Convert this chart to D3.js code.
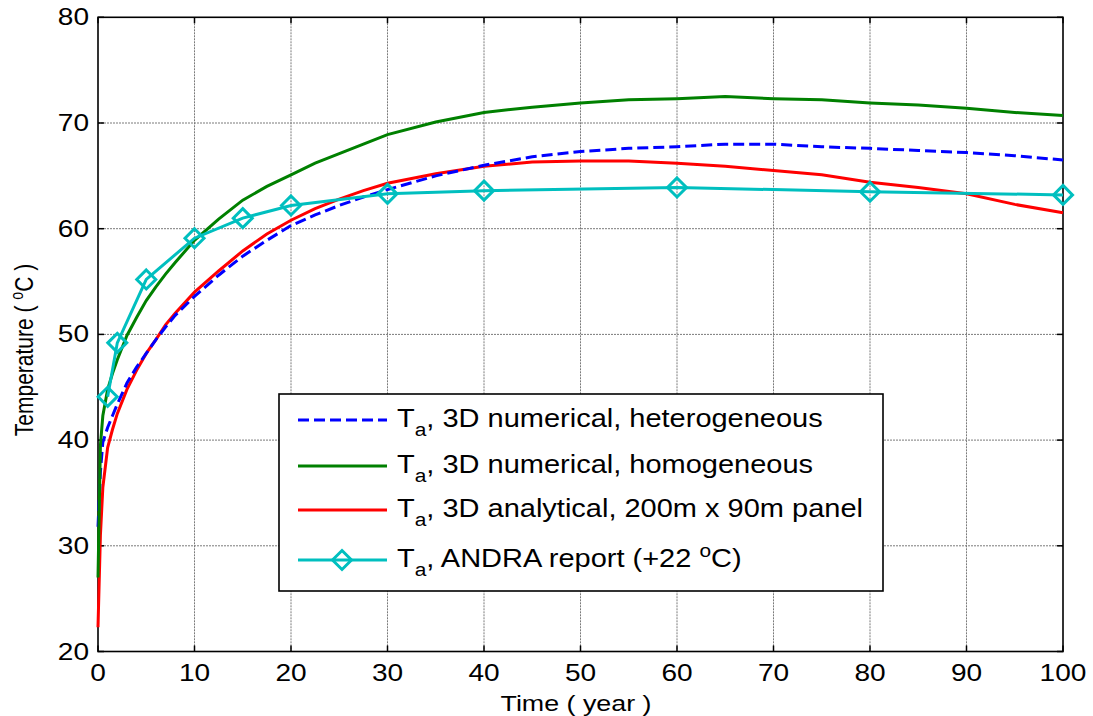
<!DOCTYPE html>
<html>
<head>
<meta charset="utf-8">
<script src="https://cdn.jsdelivr.net/npm/d3@7"></script>
<style>
  html, body { margin: 0; padding: 0; background: #fff; }
  svg { display: block; }
  text { font-family: "Liberation Sans", Arial, sans-serif; fill: #000; }
</style>
</head>
<body>
<svg id="chart" width="1093" height="716"></svg>
<script>
// ---- data ----
const timeYears = [0, 0.25, 0.5, 1, 1.5, 2, 3, 4, 5, 6, 7, 8, 10, 12.5, 15, 17.5, 20, 22.5, 25, 27.5, 30, 35, 40, 45, 50, 55, 60, 65, 70, 75, 80, 85, 90, 95, 100];
const heterogeneous = [31.8, 37, 39.8, 41.2, 42.3, 43.4, 45.4, 46.9, 48.2, 49.5, 50.7, 51.8, 53.6, 55.6, 57.4, 58.9, 60.3, 61.3, 62.2, 63.0, 63.7, 65.0, 66.0, 66.8, 67.3, 67.6, 67.75, 68.0, 68.0, 67.75, 67.6, 67.4, 67.2, 66.9, 66.5];
const homogeneous = [27, 39.5, 42.3, 44.8, 46.3, 47.6, 49.9, 51.6, 53.2, 54.5, 55.7, 56.8, 58.9, 60.9, 62.7, 64.0, 65.1, 66.2, 67.1, 68.0, 68.9, 70.1, 71.0, 71.5, 71.9, 72.2, 72.3, 72.5, 72.3, 72.2, 71.9, 71.7, 71.4, 71.0, 70.7];
const analytical = [22.3, 31, 35.5, 39.3, 41, 42.5, 44.8, 46.6, 48.2, 49.5, 50.9, 52.0, 54.0, 56.0, 57.9, 59.5, 60.8, 61.9, 62.8, 63.6, 64.3, 65.2, 65.9, 66.3, 66.4, 66.4, 66.2, 65.9, 65.5, 65.1, 64.4, 63.9, 63.3, 62.3, 61.5];
const andraYears = [1, 2, 5, 10, 15, 20, 30, 40, 60, 80, 100];
const andraValues = [44.1, 49.2, 55.2, 59.1, 61.0, 62.2, 63.3, 63.6, 63.9, 63.5, 63.2];
const xTicks = [0, 10, 20, 30, 40, 50, 60, 70, 80, 90, 100];
const yTicks = [20, 30, 40, 50, 60, 70, 80];
const legendLabels = [", 3D numerical, heterogeneous", ", 3D numerical, homogeneous", ", 3D analytical, 200m x 90m panel", ", ANDRA report (+22 "];

// ---- layout ----
const svg = d3.select("#chart");
const L = 98, R = 1063, T = 17.3, B = 651.5;
const x = d3.scaleLinear().domain([0, 100]).range([L, R]);
const y = d3.scaleLinear().domain([20, 80]).range([B, T]);
const SX = 1.22; // horizontal stretch of text in the reference

// grid
const grid = svg.append("g");
grid.selectAll("line.vx").data(xTicks.slice(1, -1)).join("line")
  .attr("x1", d => x(d)).attr("x2", d => x(d)).attr("y1", T).attr("y2", B)
  .attr("stroke", "#7a7a7a").attr("stroke-width", 1).attr("stroke-dasharray", "2,1");
grid.selectAll("line.hy").data(yTicks.slice(1, -1)).join("line")
  .attr("x1", L).attr("x2", R).attr("y1", d => y(d)).attr("y2", d => y(d))
  .attr("stroke", "#7a7a7a").attr("stroke-width", 1).attr("stroke-dasharray", "2,1");

// ticks (inside, on all four sides)
const tk = svg.append("g").attr("stroke", "#000").attr("stroke-width", 1.5);
xTicks.forEach(d => {
  tk.append("line").attr("x1", x(d)).attr("x2", x(d)).attr("y1", B).attr("y2", B - 6);
  tk.append("line").attr("x1", x(d)).attr("x2", x(d)).attr("y1", T).attr("y2", T + 6);
});
yTicks.forEach(d => {
  tk.append("line").attr("x1", L).attr("x2", L + 6).attr("y1", y(d)).attr("y2", y(d));
  tk.append("line").attr("x1", R).attr("x2", R - 6).attr("y1", y(d)).attr("y2", y(d));
});

// box
svg.append("rect").attr("x", L).attr("y", T).attr("width", R - L).attr("height", B - T)
  .attr("fill", "none").attr("stroke", "#000").attr("stroke-width", 1.6);

// tick labels
function stretchedText(parent, tx, ty, str, size, anchor) {
  const g = parent.append("g").attr("transform", `translate(${tx},${ty}) scale(${SX},1)`);
  return g.append("text").attr("x", 0).attr("y", 0).attr("font-size", size)
    .attr("text-anchor", anchor).text(str);
}
const labels = svg.append("g");
xTicks.forEach(d => stretchedText(labels, x(d), 681, d, 23, "middle"));
yTicks.forEach(d => stretchedText(labels, 89, y(d) + 8, d, 23, "end"));

// axis titles
stretchedText(labels, 576, 711, "Time ( year )", 22, "middle");
const yl = labels.append("g").attr("transform", "translate(33,350) rotate(-90) scale(1,1.25)")
  .append("text").attr("text-anchor", "middle").attr("font-size", 21);
yl.append("tspan").text("Temperature ( ");
yl.append("tspan").attr("font-size", 14).attr("dy", -8).text("o");
yl.append("tspan").attr("dy", 8).text("C )");

// series lines
const line = d3.line().x(d => x(d[0])).y(d => y(d[1]));
const plot = svg.append("g");
const zip = (a, b) => a.map((v, i) => [v, b[i]]);
plot.append("path").datum(zip(timeYears, analytical)).attr("d", line)
  .attr("fill", "none").attr("stroke", "#ff0000").attr("stroke-width", 3);
plot.append("path").datum(zip(timeYears, heterogeneous)).attr("d", line)
  .attr("fill", "none").attr("stroke", "#0000ff").attr("stroke-width", 3).attr("stroke-dasharray", "11,5");
plot.append("path").datum(zip(timeYears, homogeneous)).attr("d", line)
  .attr("fill", "none").attr("stroke", "#008000").attr("stroke-width", 3);
const andra = zip(andraYears, andraValues);
plot.append("path").datum(andra).attr("d", line)
  .attr("fill", "none").attr("stroke", "#00bfbf").attr("stroke-width", 3);
const diamond = (cx, cy, r) => `M${cx},${cy - r}L${cx + r},${cy}L${cx},${cy + r}L${cx - r},${cy}Z`;
plot.selectAll("path.mk").data(andra).join("path").attr("class", "mk")
  .attr("d", d => diamond(x(d[0]), y(d[1]), 9.5))
  .attr("fill", "none").attr("stroke", "#00bfbf").attr("stroke-width", 3);

// legend
const lg = svg.append("g");
lg.append("rect").attr("x", 279).attr("y", 394).attr("width", 604).attr("height", 197)
  .attr("fill", "#fff").attr("stroke", "#000").attr("stroke-width", 1.6);
const rowsY = [420, 466, 510, 560];
const styles = [
  { c: "#0000ff", dash: "11,5" },
  { c: "#008000", dash: null },
  { c: "#ff0000", dash: null },
  { c: "#00bfbf", dash: null, mk: true }
];
styles.forEach((s, i) => {
  const ly = rowsY[i];
  const ln = lg.append("line").attr("x1", 298).attr("x2", 387).attr("y1", ly).attr("y2", ly)
    .attr("stroke", s.c).attr("stroke-width", 3);
  if (s.dash) ln.attr("stroke-dasharray", s.dash);
  if (s.mk) lg.append("path").attr("d", diamond(342, ly, 9.5)).attr("fill", "none")
    .attr("stroke", s.c).attr("stroke-width", 3);
  const g = lg.append("g").attr("transform", `translate(397,${ly + 7}) scale(1.16,1)`);
  const t = g.append("text").attr("font-size", 25);
  t.append("tspan").text("T");
  t.append("tspan").attr("font-size", 18).attr("dy", 9).text("a");
  t.append("tspan").attr("dy", -9).text(legendLabels[i]);
  if (i === 3) {
    t.append("tspan").attr("font-size", 18).attr("dy", -10).text("o");
    t.append("tspan").attr("dy", 10).text("C)");
  }
});
</script>
</body>
</html>
